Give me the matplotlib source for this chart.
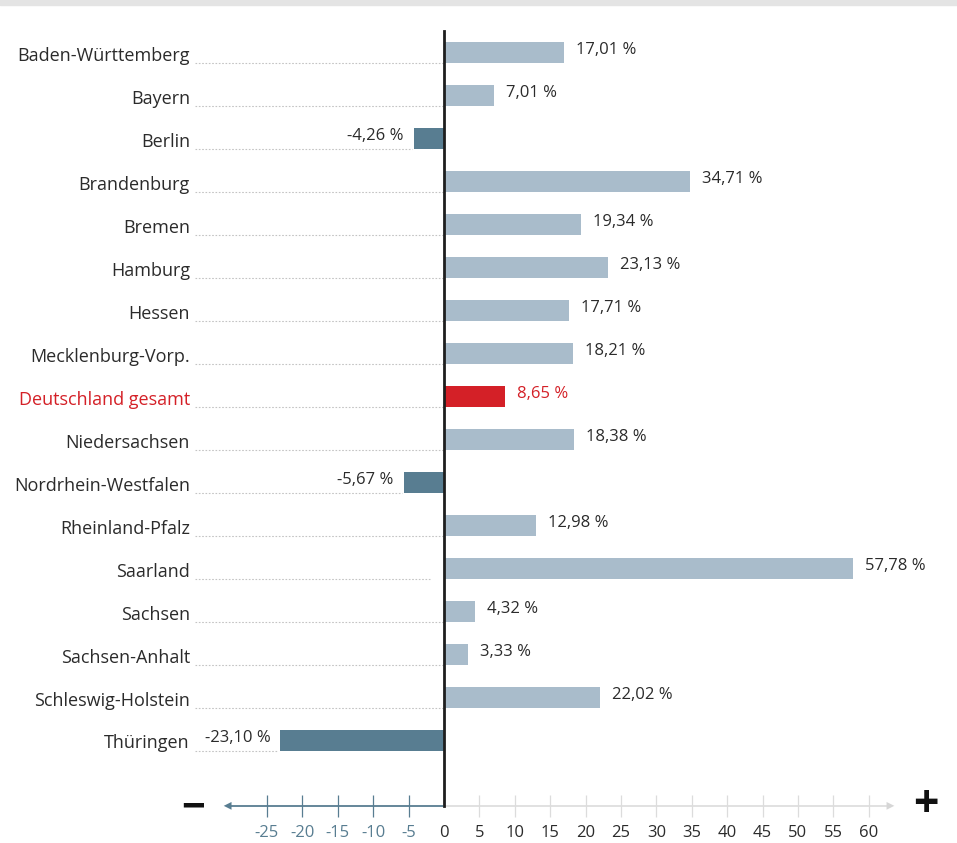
import matplotlib.pyplot as plt
from matplotlib.patches import Rectangle

plt.rcParams['font.family'] = ['Open Sans', 'DejaVu Sans']

states = ['Baden-Württemberg', 'Bayern', 'Berlin', 'Brandenburg', 'Bremen',
          'Hamburg', 'Hessen', 'Mecklenburg-Vorp.', 'Deutschland gesamt',
          'Niedersachsen', 'Nordrhein-Westfalen', 'Rheinland-Pfalz', 'Saarland',
          'Sachsen', 'Sachsen-Anhalt', 'Schleswig-Holstein', 'Thüringen']
values = [17.01, 7.01, -4.26, 34.71, 19.34, 23.13, 17.71, 18.21, 8.65,
          18.38, -5.67, 12.98, 57.78, 4.32, 3.33, 22.02, -23.10]
neg_ticks = [-25, -20, -15, -10, -5]
pos_ticks = [0, 5, 10, 15, 20, 25, 30, 35, 40, 45, 50, 55, 60]

c_pos = '#a9bccb'
c_neg = '#587d91'
c_red = '#d42027'
c_txt = '#2b2b2b'

fig = plt.figure(figsize=(9.57, 8.43), dpi=100)
ax = fig.add_axes([0, 0, 1, 1])
ax.set_xlim(-62.71, 72.46)
ax.set_ylim(18.384, -1.221)
ax.axis('off')

# grey strip at the top
fig.patches.append(Rectangle((0, 0.994), 1, 0.006, transform=fig.transFigure,
                             color='#e4e4e4', zorder=0))

px = 1 / 7.08  # one pixel in data units (x)
for i, (name, v) in enumerate(zip(states, values)):
    if name == 'Deutschland gesamt':
        col, tcol = c_red, c_red
    elif v < 0:
        col, tcol = c_neg, c_txt
    else:
        col, tcol = c_pos, c_txt
    ax.barh(i, v, height=0.49, color=col, zorder=2)
    # dotted guide
    end = min(v, 0) - (2 * px if v < 0 else 0)
    if name == 'Saarland':
        end = -14 * px
    ax.plot([-249 * px, end], [i + 0.25, i + 0.25], color='#c4c4c4',
            lw=0.8, ls=(0, (1.5, 1.5)), zorder=1)
    ax.text(-254 * px, i + 0.07, name, ha='right', va='center',
            fontsize=13, color=tcol)
    lab = f'{v:.2f}'.replace('.', ',') + ' %'
    if v >= 0:
        ax.text(v + 12 * px, i - 0.06, lab, ha='left', va='center',
                fontsize=12, color=tcol)
    else:
        ax.text(v - 10 * px, i - 0.06, lab, ha='right', va='center',
                fontsize=12, color=tcol)

# zero line
ax.plot([0, 0], [-0.5, 17.52], color='#1e1e1e', lw=2, zorder=3)

# bottom axis
ax_y = 17.52
ax.plot([-30.5, 0], [ax_y, ax_y], color=c_neg, lw=1.3, zorder=1)
ax.plot([0, 63], [ax_y, ax_y], color='#dedede', lw=1.3, zorder=1)
ax.annotate('', xy=(-31.5, ax_y), xytext=(-29, ax_y),
            arrowprops=dict(arrowstyle='-|>', color=c_neg, lw=0,
                            mutation_scale=14))
ax.annotate('', xy=(64, ax_y), xytext=(61.5, ax_y),
            arrowprops=dict(arrowstyle='-|>', color='#d6d6d6', lw=0,
                            mutation_scale=14))
ax.vlines(neg_ticks, 17.27, 17.78, color=c_neg, lw=0.9)
ax.vlines(pos_ticks[1:], 17.27, 17.78, color='#dcdcdc', lw=0.9)
for t in neg_ticks:
    ax.text(t, 18.15, str(t), ha='center', va='center', fontsize=12, color=c_neg)
for t in pos_ticks:
    ax.text(t, 18.15, str(t), ha='center', va='center', fontsize=12, color=c_txt)

ax.text(-35.4, ax_y + 0.08, '\u2212', ha='center', va='center', fontsize=30,
        fontweight='bold', color='#111111')
ax.text(68, ax_y, '+', ha='center', va='center', fontsize=32,
        fontweight='bold', color='#111111')

fig.savefig('out.png', dpi=100)
